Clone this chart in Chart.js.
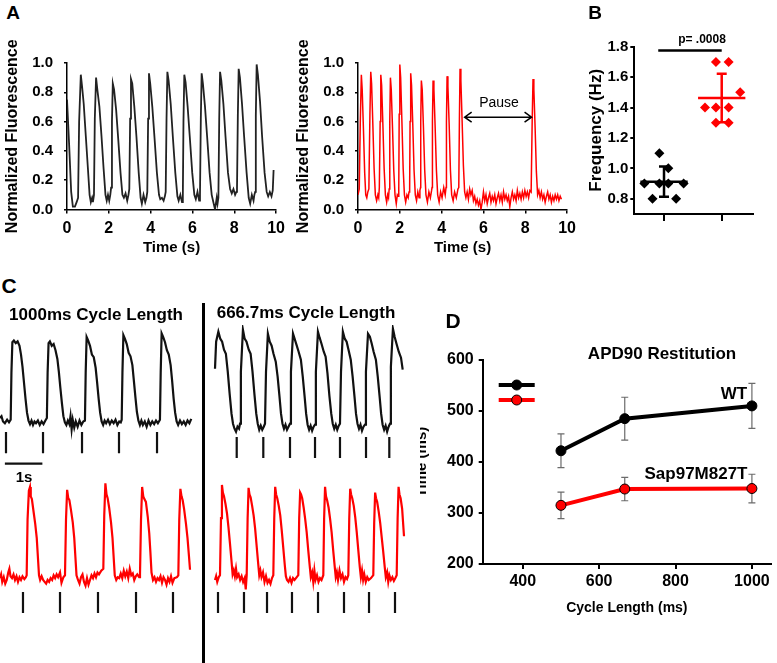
<!DOCTYPE html>
<html>
<head>
<meta charset="utf-8">
<script src="https://cdn.jsdelivr.net/npm/chart.js@4.4.1/dist/chart.umd.min.js"></script>
<style>
  html, body { margin: 0; padding: 0; background: #fff; }
  #fig { position: relative; width: 777px; height: 663px; overflow: hidden; font-family: "Liberation Sans", Arial, sans-serif; }
  canvas { position: absolute; }
  .lbl { position: absolute; transform: translate(-50%, -50%); line-height: 1; white-space: nowrap; font-weight: bold; color: #000; }
  .divider { position: absolute; left: 202px; top: 303px; width: 3px; height: 360px; background: #000; }
</style>
</head>
<body>
<div id="fig">
  <canvas id="aWT" width="290" height="222" style="left:0;top:40px"></canvas>
  <canvas id="aMut" width="290" height="222" style="left:291px;top:40px"></canvas>
  <canvas id="freq" width="207" height="200" style="left:570px;top:30px"></canvas>
  <canvas id="cSlow" width="200" height="300" style="left:0;top:325px"></canvas>
  <canvas id="cFast" width="204" height="300" style="left:206px;top:325px"></canvas>
  <canvas id="apd" width="357" height="290" style="left:420px;top:330px"></canvas>
  <div class="divider"></div>

  <div class="lbl" style="left:13px;top:12px;font-size:19px">A</div>
  <div class="lbl" style="left:595px;top:12px;font-size:19px">B</div>
  <div class="lbl" style="left:9px;top:285px;font-size:21px">C</div>
  <div class="lbl" style="left:453px;top:320px;font-size:21px">D</div>
  <div class="lbl" style="left:499px;top:102px;font-size:14px;font-weight:normal">Pause</div>
  <div class="lbl" style="left:702px;top:39px;font-size:12px">p= .0008</div>
  <div class="lbl" style="left:96px;top:314px;font-size:17px">1000ms Cycle Length</div>
  <div class="lbl" style="left:306px;top:312px;font-size:17px">666.7ms Cycle Length</div>
  <div class="lbl" style="left:24px;top:476px;font-size:15px">1s</div>
  <div class="lbl" style="left:662px;top:353px;font-size:17px">APD90 Restitution</div>
  <div class="lbl" style="left:734px;top:393px;font-size:17px">WT</div>
  <div class="lbl" style="left:696px;top:473px;font-size:17px">Sap97M827T</div>
</div>
<script>
// ---- Panel A: normalized fluorescence traces [time s, value]
const timeTicks = [0, 2, 4, 6, 8, 10];
const fluorTicks = [0, 0.2, 0.4, 0.6, 0.8, 1.0];

const fluoWT = [
  [0,0.75],[0.1,0.45],[0.2,0.12],[0.28,0.02],[0.38,0.02],[0.46,0.05],
  [0.53,0.08],[0.58,0.6],[0.66,0.92],[0.72,0.84],[0.8,0.72],[0.9,0.5],[1.0,0.28],[1.08,0.1],[1.14,0.05],[1.2,0.08],[1.24,0.05],
  [1.29,0.1],[1.33,0.62],[1.39,0.9],[1.45,0.82],[1.55,0.7],[1.65,0.5],[1.75,0.28],[1.84,0.1],[1.9,0.06],[1.96,0.1],[2.02,0.06],[2.07,0.1],
  [2.11,0.15],[2.15,0.6],[2.19,0.86],[2.25,0.82],[2.35,0.68],[2.45,0.48],[2.56,0.25],[2.65,0.1],[2.72,0.08],[2.8,0.11],[2.88,0.06],[2.94,0.1],
  [2.98,0.14],[3.02,0.62],[3.06,0.89],[3.12,0.86],[3.22,0.7],[3.32,0.5],[3.43,0.25],[3.52,0.08],[3.58,0.04],[3.66,0.1],[3.74,0.05],[3.8,0.08],
  [3.84,0.12],[3.88,0.62],[3.92,0.93],[3.98,0.86],[4.08,0.7],[4.18,0.5],[4.3,0.25],[4.4,0.1],[4.46,0.07],[4.54,0.08],[4.62,0.06],[4.68,0.09],
  [4.72,0.12],[4.76,0.62],[4.8,0.94],[4.86,0.88],[4.96,0.72],[5.06,0.5],[5.18,0.25],[5.28,0.09],[5.34,0.06],[5.42,0.1],[5.5,0.05],
  [5.54,0.1],[5.57,0.6],[5.61,0.92],[5.67,0.87],[5.77,0.7],[5.87,0.5],[5.99,0.25],[6.09,0.1],[6.16,0.07],[6.24,0.12],[6.32,0.06],
  [6.36,0.1],[6.4,0.62],[6.44,0.93],[6.5,0.86],[6.6,0.7],[6.7,0.5],[6.82,0.25],[6.92,0.1],[7.0,0.05],[7.08,0.0],[7.16,0.08],[7.2,0.04],
  [7.24,0.08],[7.28,0.62],[7.32,0.94],[7.38,0.88],[7.48,0.72],[7.58,0.5],[7.7,0.25],[7.8,0.14],[7.88,0.11],[7.96,0.14],[8.04,0.1],[8.1,0.12],
  [8.13,0.14],[8.17,0.64],[8.21,0.96],[8.27,0.9],[8.37,0.72],[8.47,0.5],[8.59,0.25],[8.69,0.08],[8.76,0.04],[8.84,0.1],[8.92,0.06],[8.96,0.1],
  [9.0,0.12],[9.03,0.64],[9.07,0.99],[9.13,0.92],[9.23,0.74],[9.33,0.5],[9.45,0.25],[9.55,0.12],[9.62,0.09],[9.7,0.12],[9.78,0.09],[9.84,0.13],[9.88,0.27]
];

const fluoMut = [
  [0.0,0.1],[0.06,0.14],[0.11,0.6],[0.16,0.92],[0.2,0.82],[0.26,0.55],[0.32,0.25],[0.37,0.1],[0.42,0.08],[0.47,0.12],
  [0.52,0.14],[0.57,0.65],[0.61,0.94],[0.65,0.86],[0.71,0.58],[0.77,0.28],[0.83,0.1],[0.89,0.06],[0.95,0.1],[0.99,0.08],
  [1.02,0.15],[1.06,0.6],[1.09,0.92],[1.13,0.85],[1.19,0.58],[1.25,0.28],[1.31,0.1],[1.37,0.05],[1.42,0.1],[1.46,0.08],
  [1.49,0.14],[1.52,0.6],[1.55,0.9],[1.59,0.82],[1.65,0.56],[1.71,0.27],[1.77,0.1],[1.83,0.04],[1.88,0.1],[1.92,0.09],
  [1.95,0.15],[1.97,0.65],[2.0,0.99],[2.04,0.9],[2.1,0.6],[2.16,0.28],[2.22,0.1],[2.28,0.05],[2.34,0.1],[2.4,0.08],[2.44,0.12],
  [2.47,0.14],[2.49,0.6],[2.52,0.93],[2.56,0.85],[2.62,0.58],[2.68,0.27],[2.74,0.1],[2.8,0.06],[2.86,0.12],[2.92,0.08],[2.96,0.13],
  [2.99,0.15],[3.0,0.6],[3.03,0.88],[3.07,0.82],[3.13,0.56],[3.19,0.27],[3.25,0.1],[3.32,0.05],[3.39,0.12],[3.46,0.08],[3.52,0.13],
  [3.54,0.15],[3.56,0.6],[3.59,0.88],[3.63,0.82],[3.69,0.56],[3.75,0.27],[3.81,0.1],[3.88,0.05],[3.95,0.12],[4.02,0.08],[4.1,0.15],[4.17,0.1],
  [4.21,0.15],[4.23,0.6],[4.26,0.91],[4.3,0.84],[4.36,0.58],[4.42,0.27],[4.48,0.1],[4.55,0.06],[4.62,0.12],[4.7,0.08],[4.78,0.14],
  [4.82,0.15],[4.85,0.62],[4.88,0.96],[4.92,0.88],[4.98,0.6],[5.04,0.3],[5.1,0.12],[5.16,0.08],
  [5.22,0.12],[5.28,0.07],[5.34,0.14],[5.4,0.1],[5.46,0.13],[5.52,0.06],[5.58,0.09],[5.64,0.04],[5.7,0.07],[5.76,0.03],[5.82,0.06],[5.88,0.0],
  [5.94,0.05],[6.0,0.12],[6.06,0.06],[6.12,0.1],[6.18,0.04],[6.24,0.08],[6.3,0.11],[6.36,0.05],[6.42,0.09],[6.48,0.06],[6.54,0.1],[6.6,0.04],
  [6.66,0.08],[6.72,0.11],[6.78,0.06],[6.84,0.1],[6.9,0.05],[6.96,0.12],[7.02,0.07],[7.08,0.1],[7.14,0.06],[7.2,0.09],[7.26,0.02],[7.32,0.08],
  [7.38,0.12],[7.44,0.07],[7.5,0.1],[7.56,0.06],[7.62,0.13],[7.68,0.08],[7.74,0.11],[7.8,0.07],[7.86,0.12],[7.92,0.08],[7.98,0.13],[8.04,0.09],
  [8.1,0.12],[8.16,0.08],[8.22,0.13],
  [8.28,0.12],[8.33,0.6],[8.37,0.89],[8.41,0.82],[8.47,0.56],[8.53,0.26],[8.59,0.1],[8.65,0.13],[8.71,0.08],[8.77,0.12],[8.83,0.07],[8.89,0.1],
  [8.95,0.05],[9.01,0.09],[9.07,0.12],[9.13,0.07],[9.19,0.1],[9.25,0.05],[9.31,0.09],[9.37,0.06],[9.43,0.1],[9.49,0.07],[9.55,0.1],[9.61,0.06],
  [9.67,0.09],[9.73,0.07]
];
const pauseArrow = { from: 5.1, to: 8.3, level: 0.63 };

// ---- Panel B: beating frequency (Hz), group x positions
const freqTicks = [0.8, 1.0, 1.2, 1.4, 1.6, 1.8];
const wtFreq = [1.1, 1.0, 0.9, 0.9, 0.9, 0.9, 0.8, 0.8];
const wtFreqX = [0.92, 1.075, 0.66, 0.92, 1.075, 1.34, 0.8, 1.21];
const mutFreq = [1.7, 1.7, 1.5, 1.4, 1.4, 1.4, 1.3, 1.3];
const mutFreqX = [1.9, 2.12, 2.32, 1.71, 1.9, 2.12, 1.9, 2.12];
const sigBar = { from: 0.9, to: 2.0, level: 1.775 };

// ---- Panel C: optical APs [time ms, normalized amplitude]
const slowBlack = [
  [0,0.08],[40,0.1],[80,0.04],[130,0.02],[190,0.06],[240,0.03],
  [285,0.06],[305,0.6],[330,0.94],[370,0.96],[420,0.93],[470,0.95],[520,0.9],[560,0.8],[600,0.66],[640,0.48],[680,0.3],[720,0.14],[760,0.05],
  [800,0.01],[840,0.05],[880,0.0],[920,0.04],[960,0.02],[1010,0.05],[1060,0.0],[1110,0.04],[1160,0.01],[1210,0.05],
  [1250,0.08],[1270,0.6],[1295,0.93],[1330,0.95],[1380,0.9],[1430,0.92],[1480,0.85],[1530,0.75],[1570,0.6],[1610,0.42],[1650,0.25],[1690,0.1],
  [1730,0.03],[1770,0.0],[1810,0.05],[1850,0.01],[1880,0.1],[1910,-0.05],[1940,0.06],[1980,-0.03],[2020,0.04],[2070,-0.02],[2120,0.05],[2170,0.0],[2220,0.04],
  [2265,0.05],[2285,0.6],[2310,1.0],[2350,0.96],[2400,0.9],[2450,0.8],[2500,0.77],[2550,0.65],[2590,0.48],[2630,0.3],[2670,0.14],[2710,0.04],
  [2750,0.0],[2790,0.05],[2830,0.02],[2880,0.06],[2930,0.01],[2980,0.05],[3030,0.02],[3080,0.06],[3130,0.0],[3180,0.04],[3220,0.03],
  [3245,0.06],[3265,0.6],[3290,1.02],[3330,0.98],[3380,0.92],[3430,0.82],[3480,0.78],[3530,0.68],[3570,0.5],[3610,0.32],[3650,0.15],[3690,0.05],
  [3730,0.0],[3770,0.05],[3810,0.0],[3860,0.04],[3910,-0.02],[3960,0.05],[4010,0.0],[4060,0.04],[4110,0.01],[4160,0.05],[4210,0.02],
  [4265,0.06],[4285,0.6],[4310,1.04],[4350,1.0],[4400,0.94],[4450,0.85],[4500,0.8],[4550,0.68],[4590,0.5],[4630,0.3],[4670,0.14],[4710,0.04],
  [4750,0.0],[4800,0.05],[4850,0.01],[4900,0.04],[4950,0.0],[5000,0.05],[5050,0.02],[5100,0.07]
];
const slowRed = [
  [0,0.02],[30,0.06],[60,-0.02],[100,0.03],[140,-0.04],[180,0.0],[220,0.08],[250,0.12],[280,0.04],[320,0.02],[360,0.06],[400,0.0],
  [440,0.04],[480,-0.02],[520,0.03],[560,0.0],[600,0.04],[650,0.01],[690,0.03],
  [711,0.05],[735,0.65],[770,0.96],[800,1.0],[820,0.9],[850,0.87],[890,0.75],[940,0.6],[980,0.45],[1010,0.25],[1040,0.05],[1070,0.0],
  [1110,0.04],[1150,0.0],[1190,-0.02],[1230,-0.04],[1270,0.0],[1310,-0.02],[1350,0.02],[1390,0.0],[1430,0.05],[1470,0.02],[1510,0.06],
  [1550,0.03],[1600,0.08],[1640,-0.03],[1690,0.03],
  [1733,0.05],[1760,0.65],[1790,0.97],[1820,0.88],[1850,0.86],[1890,0.76],[1940,0.62],[1980,0.45],[2010,0.25],[2040,0.05],[2080,0.0],
  [2120,-0.04],[2160,0.03],[2200,0.06],[2240,-0.02],[2280,-0.06],[2320,0.02],[2360,-0.05],[2400,0.0],[2440,0.05],[2480,0.02],[2520,0.07],
  [2560,0.03],[2600,0.08],[2640,0.06],[2700,0.1],
  [2755,0.12],[2780,0.7],[2810,1.04],[2840,0.92],[2870,0.88],[2910,0.78],[2960,0.62],[3000,0.45],[3030,0.25],[3060,0.05],[3100,0.0],
  [3140,0.03],[3180,0.02],[3220,0.07],[3260,0.02],[3300,0.1],[3340,0.04],[3380,0.09],[3420,0.02],[3460,0.12],[3500,0.05],[3540,0.07],
  [3580,0.0],[3620,0.04],[3660,0.06],[3710,0.03],
  [3733,0.06],[3760,0.65],[3790,1.0],[3820,0.9],[3850,0.87],[3890,0.84],[3940,0.68],[3980,0.5],[4010,0.3],[4040,0.08],[4080,0.0],
  [4120,0.03],[4160,-0.02],[4200,0.02],[4240,0.0],[4280,0.04],[4320,-0.03],[4360,0.03],[4400,0.0],[4440,-0.05],[4480,0.02],[4520,-0.02],
  [4560,0.04],[4600,-0.03],[4650,0.02],[4720,0.03],
  [4755,0.05],[4780,0.65],[4810,0.98],[4840,0.9],[4870,0.86],[4910,0.76],[4960,0.6],[5000,0.45],[5040,0.25],[5067,0.11]
];
const slowBlackStim = [160, 1147, 2187, 3173, 4187];
const slowRedStim = [613, 1600, 2613, 3627, 4613];
const scaleBarMs = [130, 1130];

const fastBlack = [
  [240,0.63],[270,0.9],[330,1.0],[380,0.93],[430,0.9],[480,0.82],[530,0.78],[580,0.6],[630,0.38],[680,0.18],[720,0.08],[760,0.03],[800,0.0],[840,0.05],[880,0.03],
  [907,0.08],[930,0.6],[985,1.02],[1030,0.93],[1080,0.9],[1140,0.82],[1190,0.78],[1240,0.6],[1290,0.38],[1340,0.18],[1380,0.08],[1420,0.02],[1460,0.06],[1500,0.02],[1540,0.05],
  [1573,0.08],[1600,0.6],[1650,0.98],[1700,0.9],[1750,0.86],[1800,0.78],[1860,0.7],[1910,0.55],[1960,0.35],[2000,0.18],[2040,0.08],[2080,0.03],[2120,0.07],[2160,0.02],[2200,0.05],
  [2240,0.08],[2265,0.6],[2320,0.98],[2370,0.92],[2420,0.86],[2470,0.8],[2530,0.72],[2580,0.55],[2630,0.35],[2670,0.18],[2710,0.07],[2750,0.02],[2790,0.06],[2830,0.01],[2870,0.05],
  [2907,0.07],[2930,0.6],[2985,1.0],[3030,0.94],[3080,0.88],[3140,0.8],[3190,0.75],[3240,0.58],[3290,0.36],[3340,0.18],[3380,0.08],[3420,0.03],[3460,0.07],[3500,0.02],[3540,0.06],
  [3573,0.08],[3600,0.6],[3650,1.0],[3700,0.93],[3750,0.9],[3800,0.82],[3860,0.72],[3910,0.55],[3960,0.35],[4000,0.18],[4040,0.08],[4080,0.03],[4120,0.07],[4160,0.01],[4200,0.05],
  [4240,0.07],[4265,0.6],[4320,0.98],[4370,0.95],[4420,0.88],[4470,0.8],[4530,0.72],[4580,0.55],[4630,0.35],[4670,0.18],[4710,0.07],[4750,0.02],[4790,0.06],[4830,0.0],[4870,0.05],
  [4907,0.08],[4930,0.65],[4985,1.03],[5030,0.95],[5080,0.88],[5140,0.8],[5200,0.74],[5245,0.62]
];
const fastRed = [
  [240,0.0],[270,0.04],[300,-0.02],[340,0.03],
  [373,0.05],[400,0.65],[425,1.0],[450,0.92],[480,0.88],[520,0.8],[560,0.7],[600,0.55],[640,0.38],[680,0.2],[710,0.06],[740,0.1],[770,0.04],
  [800,0.12],[830,0.03],[870,0.06],[910,0.0],[950,0.04],[990,-0.02],[1030,0.02],[1060,-0.1],
  [1085,0.05],[1110,0.65],[1135,0.97],[1160,0.9],[1190,0.87],[1230,0.78],[1270,0.68],[1310,0.54],[1350,0.36],[1390,0.18],[1420,0.05],
  [1450,0.1],[1480,0.03],[1520,0.08],[1560,-0.02],[1600,0.04],[1640,-0.03],[1680,0.0],[1720,-0.04],[1760,0.02],
  [1795,0.05],[1820,0.65],[1845,0.98],[1870,0.9],[1900,0.86],[1940,0.78],[1980,0.68],[2020,0.52],[2060,0.34],[2100,0.16],[2130,0.04],
  [2160,0.0],[2200,-0.02],[2240,0.02],[2280,-0.03],[2320,0.02],[2360,0.0],[2420,0.03],
  [2461,0.05],[2485,0.65],[2510,0.92],[2535,0.9],[2565,0.86],[2605,0.76],[2645,0.64],[2685,0.5],[2725,0.32],[2765,0.15],[2795,0.03],
  [2830,0.08],[2860,-0.02],[2890,0.1],[2920,0.0],[2960,0.05],[3000,-0.02],[3040,0.02],[3080,0.0],
  [3128,0.05],[3150,0.65],[3175,0.98],[3200,0.88],[3230,0.84],[3270,0.76],[3310,0.64],[3350,0.5],[3390,0.32],[3430,0.15],[3460,0.03],
  [3490,0.08],[3520,0.0],[3560,0.1],[3600,0.02],[3640,0.06],[3680,-0.02],[3720,0.03],[3760,0.01],
  [3795,0.05],[3820,0.65],[3845,0.96],[3870,0.9],[3900,0.86],[3940,0.78],[3980,0.66],[4020,0.5],[4060,0.32],[4100,0.14],[4130,0.03],
  [4160,0.1],[4190,0.0],[4220,0.06],[4260,-0.02],[4300,0.03],[4340,0.0],[4400,0.02],
  [4461,0.05],[4485,0.6],[4510,0.92],[4535,0.86],[4565,0.82],[4605,0.72],[4645,0.6],[4685,0.45],[4725,0.3],[4765,0.14],[4795,0.03],
  [4830,0.08],[4860,-0.02],[4890,0.05],[4930,0.0],[4970,0.03],[5010,-0.01],[5050,0.02],
  [5085,0.05],[5110,0.65],[5135,0.98],[5160,0.9],[5190,0.86],[5230,0.75],[5280,0.46]
];
const fastBlackStim = [819, 1528, 2240, 2907, 3573, 4267, 4888];
const fastRedStim = [320, 1013, 1627, 2293, 2987, 3680, 4347, 5040];

// ---- Panel D: APD90 restitution (ms)
const cycleLengths = [500, 667, 1000];
const wtApd = [422, 485, 510];
const wtApdErr = [33, 42, 44];
const mutApd = [315, 347, 348];
const mutApdErr = [26, 23, 28];
const apdTicks = [200, 300, 400, 500, 600];
const cycleTicks = [400, 600, 800, 1000];

// ---------------------------------------------------------------
Chart.defaults.font.family = '"Liberation Sans", Arial, sans-serif';
Chart.defaults.color = '#000';
Chart.defaults.animation = false;
Chart.defaults.responsive = false;
Chart.defaults.plugins.legend.display = false;
Chart.defaults.plugins.tooltip.enabled = false;

const bold = (size) => ({ size, weight: 'bold' });
const xy = (pairs) => pairs.map(([x, y]) => ({ x, y }));
const fixedTicks = (vals) => (s) => { s.ticks = vals.map((v) => ({ value: v })); };
const stimMarks = (times, top, bottom) =>
  times.flatMap((t) => [{ x: t, y: top }, { x: t, y: bottom }, { x: t, y: null }]);
const mean = (a) => a.reduce((s, v) => s + v, 0) / a.length;
const sd = (a) => { const m = mean(a); return Math.sqrt(a.reduce((s, v) => s + (v - m) ** 2, 0) / (a.length - 1)); };

function fluoChart(id, trace, color, width, extra) {
  return new Chart(document.getElementById(id), {
    type: 'line',
    data: { datasets: [{ data: xy(trace), borderColor: color, borderWidth: width, pointRadius: 0, tension: 0 }] },
    options: {
      layout: { padding: { top: 23, right: 12.5 } },
      scales: {
        x: {
          type: 'linear', min: 0, max: 10,
          afterBuildTicks: fixedTicks(timeTicks),
          afterFit: (s) => { s.height = 52.5; },
          ticks: { font: bold(16), padding: 5, maxRotation: 0 },
          grid: { drawOnChartArea: false, tickLength: 4, color: '#000', lineWidth: 1.5 },
          border: { color: '#000', width: 1.5 },
          title: { display: true, text: 'Time (s)', font: bold(15), padding: { bottom: 5 } },
        },
        y: {
          min: 0, max: 1,
          afterBuildTicks: fixedTicks(fluorTicks),
          afterFit: (s) => { s.width = 67; },
          ticks: { font: bold(15), padding: 11, callback: (v) => v.toFixed(1) },
          grid: { drawOnChartArea: false, tickLength: 3, color: '#000', lineWidth: 1.5 },
          border: { color: '#000', width: 1.5 },
          title: { display: true, text: 'Normalized Fluorescence', font: bold(16), padding: { top: 3 } },
        },
      },
    },
    plugins: extra ? [extra] : [],
  });
}

// double-headed arrow marking the pause
const pausePlugin = {
  id: 'pause',
  afterDatasetsDraw(chart) {
    const { ctx, scales: { x, y } } = chart;
    const x1 = x.getPixelForValue(pauseArrow.from);
    const x2 = x.getPixelForValue(pauseArrow.to);
    const yy = y.getPixelForValue(pauseArrow.level);
    ctx.save();
    ctx.strokeStyle = '#000';
    ctx.lineWidth = 1.5;
    ctx.beginPath();
    ctx.moveTo(x1, yy); ctx.lineTo(x2, yy);
    ctx.moveTo(x1 + 7, yy - 5); ctx.lineTo(x1, yy); ctx.lineTo(x1 + 7, yy + 5);
    ctx.moveTo(x2 - 7, yy - 5); ctx.lineTo(x2, yy); ctx.lineTo(x2 - 7, yy + 5);
    ctx.stroke();
    ctx.restore();
  },
};

fluoChart('aWT', fluoWT, '#222', 1.8);
fluoChart('aMut', fluoMut, '#ff0000', 1.5, pausePlugin);

// ---- B
const freqSummary = {
  id: 'freqSummary',
  afterDatasetsDraw(chart) {
    const { ctx, scales: { x, y } } = chart;
    ctx.save();
    ctx.lineWidth = 2.5;
    [[wtFreq, 1, '#000'], [mutFreq, 2, '#ff0000']].forEach(([vals, g, col]) => {
      const m = mean(vals), s = sd(vals);
      const yTop = y.getPixelForValue(m + s), yBot = y.getPixelForValue(m - s);
      const xc = x.getPixelForValue(g);
      ctx.strokeStyle = col;
      ctx.beginPath();
      ctx.moveTo(x.getPixelForValue(g - 0.41), y.getPixelForValue(m));
      ctx.lineTo(x.getPixelForValue(g + 0.41), y.getPixelForValue(m));
      ctx.moveTo(xc, yTop); ctx.lineTo(xc, yBot);
      ctx.moveTo(xc - 5, yTop); ctx.lineTo(xc + 5, yTop);
      ctx.moveTo(xc - 5, yBot); ctx.lineTo(xc + 5, yBot);
      ctx.stroke();
    });
    ctx.strokeStyle = '#000';
    ctx.beginPath();
    ctx.moveTo(x.getPixelForValue(sigBar.from), y.getPixelForValue(sigBar.level));
    ctx.lineTo(x.getPixelForValue(sigBar.to), y.getPixelForValue(sigBar.level));
    ctx.stroke();
    ctx.restore();
  },
};

new Chart(document.getElementById('freq'), {
  type: 'scatter',
  data: {
    datasets: [
      { data: wtFreq.map((v, i) => ({ x: wtFreqX[i], y: v })), pointStyle: 'rectRot', pointRadius: 5, backgroundColor: '#000', borderWidth: 0 },
      { data: mutFreq.map((v, i) => ({ x: mutFreqX[i], y: v })), pointStyle: 'rectRot', pointRadius: 5, backgroundColor: '#ff0000', borderWidth: 0 },
    ],
  },
  options: {
    layout: { padding: { top: 16.7, right: 24.3 } },
    scales: {
      x: {
        type: 'linear', min: 0.485, max: 2.537,
        afterBuildTicks: fixedTicks([1, 2]),
        afterFit: (s) => { s.height = 16; },
        ticks: { display: false },
        grid: { drawOnChartArea: false, tickLength: 7, color: '#000', lineWidth: 2 },
        border: { color: '#000', width: 2 },
      },
      y: {
        min: 0.7, max: 1.8,
        afterBuildTicks: fixedTicks(freqTicks),
        afterFit: (s) => { s.width = 64.3; },
        ticks: { font: bold(15), padding: 2, callback: (v) => v.toFixed(1) },
        grid: { drawOnChartArea: false, tickLength: 4, color: '#000', lineWidth: 2 },
        border: { color: '#000', width: 2 },
        title: { display: true, text: 'Frequency (Hz)', font: bold(17), padding: { top: 15.8 } },
      },
    },
  },
  plugins: [freqSummary],
});

// ---- C
function apChart(id, span, cfg) {
  const line = (data, axis, color) => ({ data, yAxisID: axis, borderColor: color, borderWidth: 2.2, pointRadius: 0, tension: 0, spanGaps: false });
  const sets = [
    line(xy(cfg.black), 'yB', '#111'),
    line(xy(cfg.red), 'yR', '#ff0000'),
    line(stimMarks(cfg.blackStim, cfg.blackMark[0], cfg.blackMark[1]), 'yB', '#111'),
    line(stimMarks(cfg.redStim, cfg.redMark[0], cfg.redMark[1]), 'yR', '#111'),
  ];
  if (cfg.bar) sets.push(line(cfg.bar.map((t) => ({ x: t, y: cfg.barLevel })), 'yB', '#111'));
  return new Chart(document.getElementById(id), {
    type: 'line',
    data: { datasets: sets },
    options: {
      scales: {
        x: { type: 'linear', display: false, min: 0, max: span },
        yB: { type: 'linear', display: false, min: cfg.yB[0], max: cfg.yB[1] },
        yR: { type: 'linear', display: false, min: cfg.yR[0], max: cfg.yR[1] },
      },
    },
  });
}

apChart('cSlow', 5333, {
  black: slowBlack, red: slowRed, blackStim: slowBlackStim, redStim: slowRedStim,
  yB: [-2.273, 1.136], yR: [-0.484, 2.742],
  blackMark: [-0.08, -0.32], redMark: [-0.13, -0.355],
  bar: scaleBarMs, barLevel: -0.44,
});
apChart('cFast', 5440, {
  black: fastBlack, red: fastRed, blackStim: fastBlackStim, redStim: fastRedStim,
  yB: [-1.933, 1.067], yR: [-0.474, 2.684],
  blackMark: [-0.053, -0.263], redMark: [-0.126, -0.347],
});

// ---- D
const errorBars = {
  id: 'errorBars',
  beforeDatasetsDraw(chart) {
    const { ctx, scales: { x, y } } = chart;
    ctx.save();
    ctx.strokeStyle = '#6b6b6b';
    ctx.lineWidth = 1.2;
    [[wtApd, wtApdErr], [mutApd, mutApdErr]].forEach(([m, e]) => {
      cycleLengths.forEach((c, i) => {
        const xc = x.getPixelForValue(c);
        const yT = y.getPixelForValue(m[i] + e[i]);
        const yB = y.getPixelForValue(m[i] - e[i]);
        ctx.beginPath();
        ctx.moveTo(xc, yT); ctx.lineTo(xc, yB);
        ctx.moveTo(xc - 3.5, yT); ctx.lineTo(xc + 3.5, yT);
        ctx.moveTo(xc - 3.5, yB); ctx.lineTo(xc + 3.5, yB);
        ctx.stroke();
      });
    });
    ctx.restore();
  },
};

const apdLegend = {
  id: 'apdLegend',
  afterDatasetsDraw(chart) {
    const { ctx, chartArea } = chart;
    ctx.save();
    chart.data.datasets.forEach((ds, i) => {
      const yy = chartArea.top + 25 + i * 15;
      const x1 = chartArea.left + 16, x2 = chartArea.left + 52;
      ctx.strokeStyle = ds.borderColor;
      ctx.lineWidth = 4;
      ctx.beginPath(); ctx.moveTo(x1, yy); ctx.lineTo(x2, yy); ctx.stroke();
      ctx.fillStyle = ds.pointBackgroundColor;
      ctx.strokeStyle = ds.pointBorderColor;
      ctx.lineWidth = 1;
      ctx.beginPath(); ctx.arc((x1 + x2) / 2, yy, 5, 0, Math.PI * 2); ctx.fill(); ctx.stroke();
    });
    ctx.restore();
  },
};

new Chart(document.getElementById('apd'), {
  type: 'line',
  data: {
    datasets: [
      { label: 'WT', data: cycleLengths.map((c, i) => ({ x: c, y: wtApd[i] })), borderColor: '#000', borderWidth: 4,
        pointRadius: 5, pointBackgroundColor: '#000', pointBorderColor: '#000', pointBorderWidth: 1, tension: 0 },
      { label: 'Sap97M827T', data: cycleLengths.map((c, i) => ({ x: c, y: mutApd[i] })), borderColor: '#ff0000', borderWidth: 4,
        pointRadius: 5, pointBackgroundColor: '#ff0000', pointBorderColor: '#000', pointBorderWidth: 1, tension: 0 },
    ],
  },
  options: {
    layout: { padding: { top: 30, right: 0 } },
    scales: {
      x: {
        type: 'linear', min: 295, max: 1050,
        afterBuildTicks: fixedTicks(cycleTicks),
        afterFit: (s) => { s.height = 56; },
        ticks: { font: bold(16), padding: 3, maxRotation: 0, callback: (v) => String(v) },
        grid: { drawOnChartArea: false, tickLength: 5, color: '#000', lineWidth: 2 },
        border: { color: '#000', width: 2 },
        title: { display: true, text: 'Cycle Length (ms)', font: bold(14), padding: { bottom: 3.6 } },
      },
      y: {
        min: 200, max: 600,
        afterBuildTicks: fixedTicks(apdTicks),
        afterFit: (s) => { s.width = 62.7; },
        ticks: { font: bold(16), padding: 5 },
        grid: { drawOnChartArea: false, tickLength: 4, color: '#000', lineWidth: 2 },
        border: { color: '#000', width: 2 },
        title: { display: true, text: 'Time (ms)', font: bold(15), padding: { top: -7.5, bottom: 0 } },
      },
    },
  },
  plugins: [errorBars, apdLegend],
});
</script>
</body>
</html>
